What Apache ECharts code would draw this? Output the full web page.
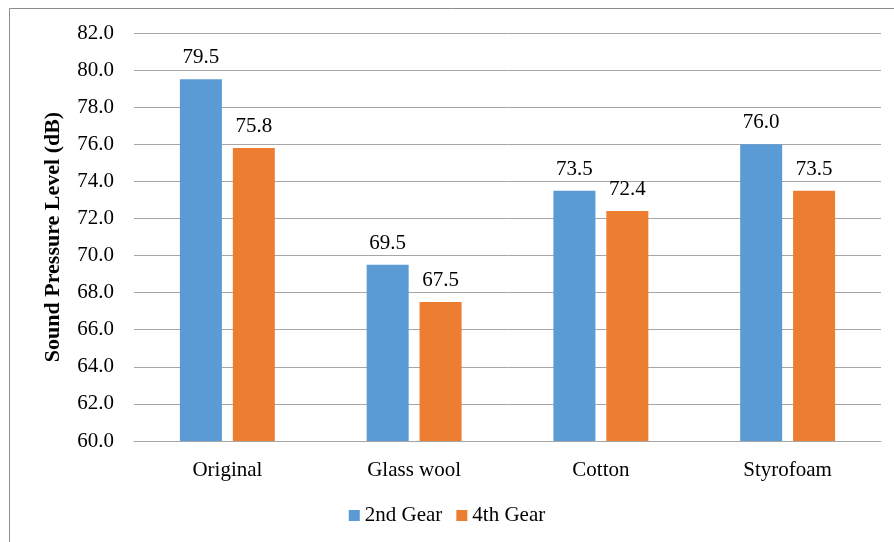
<!DOCTYPE html>
<html>
<head>
<meta charset="utf-8">
<script src="https://cdn.jsdelivr.net/npm/echarts@6/dist/echarts.min.js"></script>
<style>
  html, body { margin: 0; padding: 0; background: #fff; }
  #chart { width: 894px; height: 542px; }
</style>
</head>
<body>
<div id="chart"></div>
<script>
var categories = ['Original', 'Glass wool', 'Cotton', 'Styrofoam']
var gear2 = [79.5, 69.5, 73.5, 76.0]
var gear4 = [75.8, 67.5, 72.4, 73.5]

var font = 'Liberation Serif'
var chart = echarts.init(document.getElementById('chart'))

var labelOpt = {
    show: true,
    position: 'top',
    distance: 11,
    fontFamily: font,
    fontSize: 21,
    color: '#000',
    formatter: function(p) { return p.value.toFixed(1) }
}

chart.setOption({
    animation: false,
    graphic: [{
        type: 'rect',
        shape: { x: 9.5, y: 8.5, width: 900, height: 540 },
        style: { fill: 'none', stroke: '#8c8c8c', lineWidth: 1 }
    }],
    grid: { left: 134, right: 13, top: 33, bottom: 101 },
    legend: {
        bottom: 11,
        itemWidth: 11,
        itemHeight: 11,
        itemGap: 14,
        icon: 'rect',
        textStyle: { fontFamily: font, fontSize: 21, color: '#000' },
        data: ['2nd Gear', '4th Gear']
    },
    xAxis: {
        type: 'category',
        data: categories,
        axisTick: { show: false },
        axisLine: { lineStyle: { color: '#a6a6a6' } },
        axisLabel: { fontFamily: font, fontSize: 21, color: '#000', margin: 19 }
    },
    yAxis: {
        type: 'value',
        min: 60,
        max: 82,
        interval: 2,
        name: 'Sound Pressure Level (dB)',
        nameLocation: 'middle',
        nameGap: 70,
        nameTextStyle: { fontFamily: font, fontSize: 22, fontWeight: 'bold', color: '#000' },
        axisLine: { show: false },
        axisTick: { show: false },
        splitLine: { lineStyle: { color: '#a6a6a6' } },
        axisLabel: {
            fontFamily: font, fontSize: 21, color: '#000', margin: 20,
            formatter: function(v) { return v.toFixed(1) }
        }
    },
    series: [{
        name: '2nd Gear',
        type: 'bar',
        data: gear2,
        barWidth: 42,
        barGap: '26%',
        itemStyle: { color: '#5b9bd5' },
        label: labelOpt
    }, {
        name: '4th Gear',
        type: 'bar',
        data: gear4,
        barWidth: 42,
        itemStyle: { color: '#ed7d31' },
        label: labelOpt
    }]
})
</script>
</body>
</html>
